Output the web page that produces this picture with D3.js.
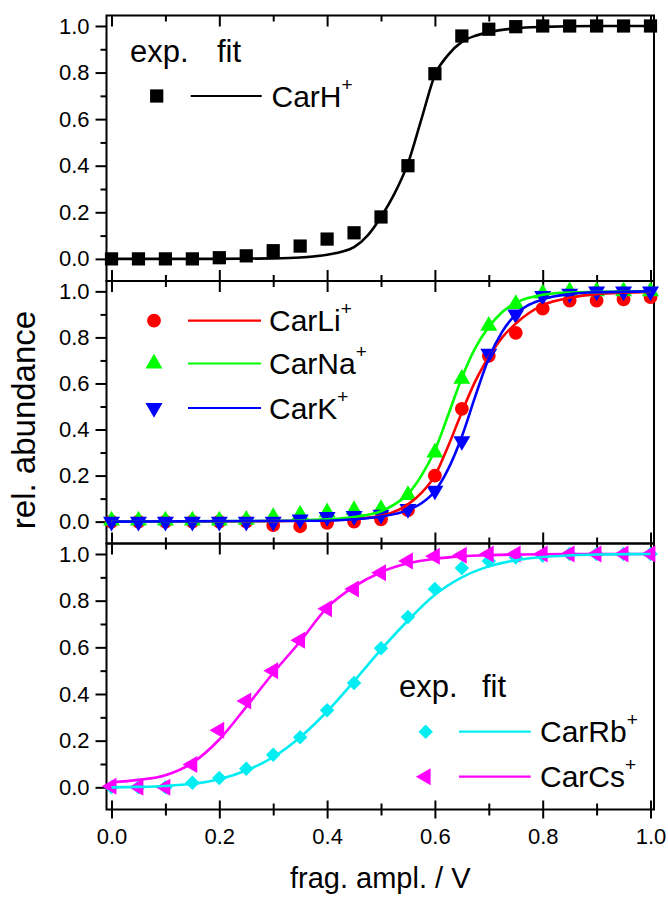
<!DOCTYPE html>
<html><head><meta charset="utf-8">
<script src="https://cdn.jsdelivr.net/npm/d3@7"></script>
<style>
html,body{margin:0;padding:0;background:#fff;}
svg text{font-family:"Liberation Sans",Arial,sans-serif;fill:#000;}
</style></head>
<body><svg id="c" width="668" height="897"></svg>
<script>
// ---------- data ----------
const expX = [0,0.05,0.1,0.15,0.2,0.25,0.3,0.35,0.4,0.45,0.5,0.55,0.6,0.65,0.7,0.75,0.8,0.85,0.9,0.95,1.0];

const carH  = [0,0,0,0,0.005,0.013,0.035,0.055,0.085,0.112,0.18,0.40,0.795,0.957,0.986,0.997,1,1,1,1,1];
const carLi = [0,0,0,0,0,0,-0.015,-0.02,-0.005,0,0.01,0.05,0.20,0.49,0.72,0.82,0.925,0.96,0.96,0.965,0.975];
const carNa = [0.005,0.005,0.005,0.005,0.005,0.008,0.02,0.03,0.04,0.05,0.055,0.115,0.30,0.62,0.85,0.945,0.99,1,1,1,1];
const carK  = [0,0,0,0,0,0,0,0.01,0.02,0.025,0.03,0.055,0.135,0.35,0.73,0.90,0.98,0.99,1,1,1];
const carRb = [0,0,0,0.02,0.04,0.08,0.14,0.215,0.33,0.447,0.596,0.73,0.85,0.94,0.97,0.985,0.993,1,1,1,1];
const carCs = [0.005,0,0,0.098,0.245,0.37,0.50,0.63,0.765,0.85,0.92,0.97,0.99,0.995,1,1,1,1,1,1,1];

const fitHx  = [0,0.1,0.2,0.3,0.35,0.4,0.425,0.45,0.475,0.5,0.525,0.55,0.575,0.6,0.625,0.65,0.675,0.7,0.75,0.8,0.9,1.0];
const fitHy  = [0,0,0,0.002,0.006,0.018,0.03,0.05,0.1,0.18,0.28,0.41,0.6,0.79,0.877,0.932,0.958,0.973,0.99,0.996,1,1];

const fitLix = [0,0.3,0.4,0.45,0.5,0.55,0.575,0.6,0.625,0.65,0.675,0.7,0.725,0.75,0.8,0.85,0.9,1.0];
const fitLiy = [0,0.002,0.006,0.012,0.025,0.075,0.125,0.2,0.33,0.475,0.61,0.715,0.8,0.86,0.94,0.972,0.988,0.997];

const fitNax = [0,0.3,0.4,0.45,0.5,0.525,0.55,0.575,0.6,0.625,0.65,0.675,0.7,0.725,0.75,0.8,0.85,1.0];
const fitNay = [0,0.003,0.01,0.02,0.045,0.075,0.12,0.2,0.31,0.465,0.625,0.755,0.845,0.91,0.95,0.985,0.995,1.0];

const fitKx  = [0,0.4,0.45,0.5,0.55,0.575,0.6,0.625,0.65,0.675,0.7,0.725,0.75,0.8,0.85,0.9,1.0];
const fitKy  = [0,0.004,0.01,0.022,0.05,0.08,0.132,0.23,0.37,0.545,0.71,0.825,0.9,0.965,0.988,0.996,1.0];

const fitRbx = [0,0.05,0.1,0.15,0.2,0.25,0.3,0.35,0.4,0.45,0.5,0.55,0.6,0.65,0.7,0.75,0.8,0.85,0.9,1.0];
const fitRby = [0,0.002,0.006,0.015,0.035,0.072,0.13,0.215,0.325,0.455,0.59,0.715,0.825,0.9,0.947,0.973,0.987,0.994,0.998,1.0];

const fitCsx = [0,0.05,0.1,0.15,0.2,0.25,0.3,0.35,0.4,0.45,0.5,0.55,0.6,0.65,0.7,0.8,1.0];
const fitCsy = [0.022,0.032,0.052,0.105,0.205,0.345,0.49,0.625,0.77,0.86,0.922,0.96,0.98,0.99,0.995,0.999,1.0];

const yMajor = [0,0.2,0.4,0.6,0.8,1.0];
const yMinor = [0.1,0.3,0.5,0.7,0.9];
const xMajor = [0,0.2,0.4,0.6,0.8,1.0];
const xMinor = [0.1,0.3,0.5,0.7,0.9];

const yTitle = "rel. abundance";
const xTitle = "frag. ampl. / V";

// ---------- layout ----------
const svg = d3.select("#c");
const L = 106.5, R = 654;
const x = d3.scaleLinear().domain([-0.0093, 1.0065]).range([L, R]);
const panelsPos = [[15.5,281],[281,543.5],[543.5,809.5]];
const yDom = [-0.095, 1.045];
const ys = panelsPos.map(p => d3.scaleLinear().domain(yDom).range([p[1], p[0]]));

const sym = {
  square: d3.symbol().type(d3.symbolSquare).size(175),
  circle: d3.symbol().type(d3.symbolCircle).size(150),
  tri: d3.symbol().type(d3.symbolTriangle).size(125),
  diamond: d3.symbol().type(d3.symbolSquare).size(105)
};

const series = [
  {panel:0, name:"CarH", ys:carH, fx:fitHx, fy:fitHy, color:"#000", shape:"square", r:0},
  {panel:1, name:"CarLi", ys:carLi, fx:fitLix, fy:fitLiy, color:"#ff0000", shape:"circle", r:0},
  {panel:1, name:"CarNa", ys:carNa, fx:fitNax, fy:fitNay, color:"#00ff00", shape:"tri", r:0},
  {panel:1, name:"CarK", ys:carK, fx:fitKx, fy:fitKy, color:"#0000ff", shape:"tri", r:180},
  {panel:2, name:"CarRb", ys:carRb, fx:fitRbx, fy:fitRby, color:"#00eef2", shape:"diamond", r:45},
  {panel:2, name:"CarCs", ys:carCs, fx:fitCsx, fy:fitCsy, color:"#ff00ff", shape:"tri", r:-90}
];

// axes
panelsPos.forEach((p, i) => {
  const y = ys[i];
  const g = svg.append("g");
  const la = g.append("g").attr("transform", `translate(${L},0)`)
    .call(d3.axisLeft(y).tickValues(yMajor).tickSize(11).tickSizeOuter(0).tickPadding(6).tickFormat(d3.format(".1f")));
  la.selectAll("text").style("font-size","22px").attr("font-family",null);
  g.append("g").attr("transform", `translate(${L},0)`)
    .call(d3.axisLeft(y).tickValues(yMinor).tickSize(6).tickSizeOuter(0).tickFormat(""));
  g.append("g").attr("transform", `translate(0,${p[0]})`)
    .call(d3.axisBottom(x).tickValues(xMajor).tickSize(11).tickSizeOuter(0).tickFormat(""));
  g.append("g").attr("transform", `translate(0,${p[0]})`)
    .call(d3.axisBottom(x).tickValues(xMinor).tickSize(6).tickSizeOuter(0).tickFormat(""));
  g.append("g").attr("transform", `translate(0,${p[1]})`)
    .call(d3.axisTop(x).tickValues(xMajor).tickSize(i===2?9:11).tickSizeOuter(0).tickFormat(""));
  g.append("g").attr("transform", `translate(0,${p[1]})`)
    .call(d3.axisTop(x).tickValues(xMinor).tickSize(6).tickSizeOuter(0).tickFormat(""));
  if (i === 2) {
    const ba = g.append("g").attr("transform", `translate(0,${p[1]})`)
      .call(d3.axisBottom(x).tickValues(xMajor).tickSize(9).tickSizeOuter(0).tickPadding(10).tickFormat(d3.format(".1f")));
    ba.selectAll("text").style("font-size","22px").attr("font-family",null);
    g.append("g").attr("transform", `translate(0,${p[1]})`)
      .call(d3.axisBottom(x).tickValues(xMinor).tickSize(6).tickSizeOuter(0).tickFormat(""));
  }
  g.selectAll(".domain").remove();
  g.selectAll(".tick line").attr("stroke","#000").attr("stroke-width",2);
  g.append("rect").attr("x",L).attr("y",p[0]).attr("width",R-L).attr("height",p[1]-p[0])
    .attr("fill","none").attr("stroke","#000").attr("stroke-width",2);
});

// data
const line = (s) => d3.line().x(d => x(d[0])).y(d => ys[s.panel](d[1])).curve(d3.curveMonotoneX);
function markers(s) {
  svg.append("g").selectAll("path").data(expX.map((v,k)=>[v,s.ys[k]])).join("path")
    .attr("d", sym[s.shape]())
    .attr("transform", d => `translate(${x(d[0])},${ys[s.panel](d[1])}) rotate(${s.r})`)
    .attr("fill", s.color);
}
function fit(s) {
  svg.append("path").datum(s.fx.map((v,k)=>[v,s.fy[k]]))
    .attr("d", line(s)).attr("fill","none").attr("stroke",s.color).attr("stroke-width",2.6);
}
[0,1,2,3].forEach(i => markers(series[i]));
[0,1,2,3].forEach(i => fit(series[i]));
markers(series[4]); markers(series[5]);
fit(series[5]); fit(series[4]);

// legends
function legendText(tx, ty, name) {
  const t = svg.append("text").attr("x",tx).attr("y",ty).style("font-size","30px");
  t.append("tspan").text(name);
  t.append("tspan").attr("dy",-16).style("font-size","19px").text("+");
}
function legendRow(s, mx, my, l1, l2, tx, ty) {
  svg.append("path").attr("d", sym[s.shape]()).attr("transform",`translate(${mx},${my}) rotate(${s.r})`).attr("fill",s.color);
  svg.append("line").attr("x1",l1).attr("x2",l2).attr("y1",my).attr("y2",my).attr("stroke",s.color).attr("stroke-width",2.2);
  legendText(tx, ty, s.name);
}
svg.append("text").attr("x",130).attr("y",62).style("font-size","31px").text("exp.");
svg.append("text").attr("x",217).attr("y",62).style("font-size","31px").text("fit");
legendRow(series[0], 156.7, 96, 190.7, 261.7, 271.5, 106.7);
legendRow(series[1], 154, 320.7, 188, 261, 269, 330.7);
legendRow(series[2], 154, 363.5, 188, 261, 269, 374);
legendRow(series[3], 154, 408, 188, 261, 269, 418.5);
svg.append("text").attr("x",399).attr("y",697).style("font-size","31px").text("exp.");
svg.append("text").attr("x",482).attr("y",697).style("font-size","31px").text("fit");
legendRow(series[4], 425.7, 731.7, 459, 530.7, 540, 742);
legendRow(series[5], 425.7, 776.7, 459, 530.7, 540, 787);

// titles
svg.append("text").attr("transform","translate(35,420) rotate(-90)").attr("text-anchor","middle")
  .style("font-size","33px").text(yTitle);
svg.append("text").attr("x",(L+R)/2).attr("y",888).attr("text-anchor","middle")
  .style("font-size","29px").text(xTitle);
</script></body></html>
